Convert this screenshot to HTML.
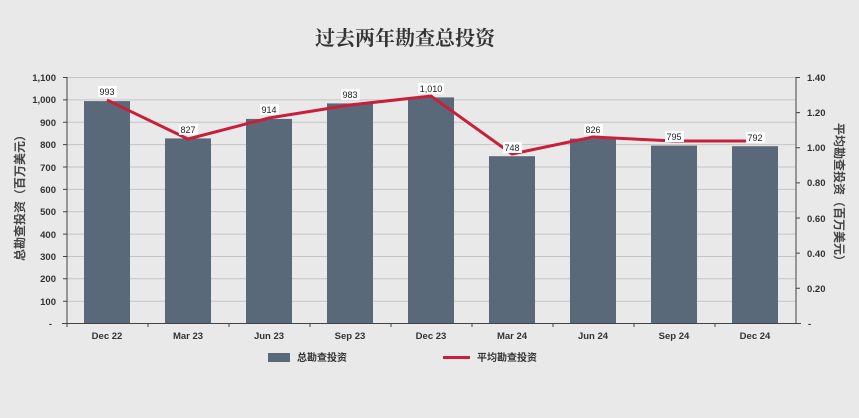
<!DOCTYPE html>
<html><head><meta charset="utf-8"><style>
body{margin:0;background:#e9e9e9;}
svg{display:block;font-family:"Liberation Sans","Noto Sans CJK SC",sans-serif;}
</style></head><body>
<svg width="859" height="418" viewBox="0 0 859 418">
<rect width="859" height="418" fill="#e9e9e9"/>
<text x="405" y="45" text-anchor="middle" font-size="20" font-weight="bold" fill="#333" font-family="'Noto Serif CJK SC','Noto Sans CJK SC',serif">过去两年勘查总投资</text>
<g stroke="#c4c4c4" stroke-width="1">
<line x1="67" x2="796" y1="77.5" y2="77.5"/><line x1="67" x2="796" y1="99.9" y2="99.9"/><line x1="67" x2="796" y1="122.3" y2="122.3"/><line x1="67" x2="796" y1="144.6" y2="144.6"/><line x1="67" x2="796" y1="167" y2="167"/><line x1="67" x2="796" y1="189.4" y2="189.4"/><line x1="67" x2="796" y1="211.7" y2="211.7"/><line x1="67" x2="796" y1="234.1" y2="234.1"/><line x1="67" x2="796" y1="256.5" y2="256.5"/><line x1="67" x2="796" y1="278.8" y2="278.8"/><line x1="67" x2="796" y1="301.2" y2="301.2"/>
</g>
<g fill="#5a697a">
<rect x="84" y="101.1" width="46" height="222.4"/>
<rect x="165" y="138.4" width="46" height="185.1"/>
<rect x="246" y="118.9" width="46" height="204.6"/>
<rect x="327" y="103.4" width="46" height="220.1"/>
<rect x="408" y="97.4" width="46" height="226.1"/>
<rect x="489" y="156.2" width="46" height="167.3"/>
<rect x="570" y="138.6" width="46" height="184.9"/>
<rect x="651" y="145.6" width="46" height="177.9"/>
<rect x="732" y="146.2" width="46" height="177.3"/>
</g>
<g stroke="#444" stroke-width="1" fill="none">
<line x1="67" x2="67" y1="77" y2="324"/><line x1="796" x2="796" y1="77" y2="324"/>
<line x1="62" x2="801" y1="323.5" y2="323.5"/>
<path d="M148,323v4M229,323v4M310,323v4M391,323v4M472,323v4M553,323v4M634,323v4M715,323v4M67,323v4"/>
<path d="M63,77.5h4M63,99.9h4M63,122.3h4M63,144.6h4M63,167h4M63,189.4h4M63,211.7h4M63,234.1h4M63,256.5h4M63,278.8h4M63,301.2h4"/>
<path d="M796,77.5h4M796,112.6h4M796,147.7h4M796,182.9h4M796,218h4M796,253.1h4M796,288.3h4"/>
</g>
<polyline fill="none" stroke="#c8203b" stroke-width="3" points="107,100 188,139 269,118 350,105 431,96 512,154 593,137 674,141 755,141"/>
<g font-size="9" text-anchor="middle" fill="#222">
<g fill="#fff"><rect x="98" y="86" width="19" height="11"/><rect x="179" y="124" width="19" height="11"/><rect x="260" y="104" width="19" height="11"/><rect x="341" y="89" width="19" height="11"/><rect x="418" y="83" width="26" height="11"/><rect x="503" y="142" width="19" height="11"/><rect x="584" y="124" width="19" height="11"/><rect x="665" y="131" width="19" height="11"/><rect x="746" y="132" width="19" height="11"/></g>
<text x="107" y="95">993</text><text x="188" y="133">827</text><text x="269" y="113">914</text><text x="350" y="98">983</text><text x="431" y="92">1,010</text><text x="512" y="151">748</text><text x="593" y="133">826</text><text x="674" y="140">795</text><text x="755" y="141">792</text>
</g>
<g font-size="9.5" font-weight="bold" fill="#333" text-anchor="end">
<text x="56" y="81">1,100</text><text x="56" y="103">1,000</text><text x="56" y="126">900</text><text x="56" y="148">800</text><text x="56" y="171">700</text><text x="56" y="193">600</text><text x="56" y="215">500</text><text x="56" y="238">400</text><text x="56" y="260">300</text><text x="56" y="282">200</text><text x="56" y="305">100</text><text x="52" y="327">-</text>
</g>
<g font-size="9.5" font-weight="bold" fill="#333">
<text x="807" y="81">1.40</text><text x="807" y="116">1.20</text><text x="807" y="151">1.00</text><text x="807" y="186">0.80</text><text x="807" y="222">0.60</text><text x="807" y="257">0.40</text><text x="807" y="292">0.20</text><text x="808" y="327">-</text>
</g>
<g font-size="9.5" font-weight="bold" fill="#333" text-anchor="middle">
<text x="107" y="339">Dec 22</text><text x="188" y="339">Mar 23</text><text x="269" y="339">Jun 23</text><text x="350" y="339">Sep 23</text><text x="431" y="339">Dec 23</text><text x="512" y="339">Mar 24</text><text x="593" y="339">Jun 24</text><text x="674" y="339">Sep 24</text><text x="755" y="339">Dec 24</text>
</g>
<text transform="translate(24,195) rotate(-90)" text-anchor="middle" font-size="12" font-weight="bold" fill="#444">总勘查投资（百万美元）</text>
<text transform="translate(835,195) rotate(90)" text-anchor="middle" font-size="12" font-weight="bold" fill="#444">平均勘查投资（百万美元）</text>
<rect x="268" y="353" width="22" height="9" fill="#5a697a"/>
<text x="297" y="361" font-size="10" font-weight="bold" fill="#333">总勘查投资</text>
<line x1="443" x2="470" y1="357.5" y2="357.5" stroke="#c8203b" stroke-width="3"/>
<text x="477" y="361" font-size="10" font-weight="bold" fill="#333">平均勘查投资</text>
</svg>
</body></html>
